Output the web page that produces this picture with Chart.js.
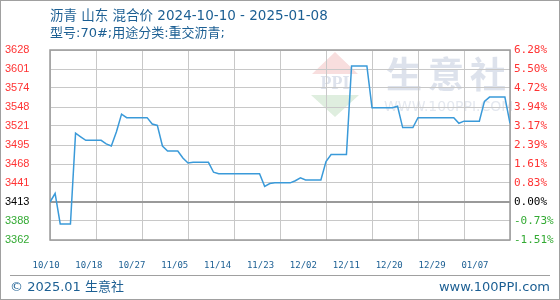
<!DOCTYPE html>
<html><head><meta charset="utf-8">
<script src="https://cdn.jsdelivr.net/npm/chart.js@4"></script>
<style>
html,body{margin:0;padding:0;background:#fff;}
#wrap{position:relative;width:560px;height:300px;overflow:hidden;}
#frame{position:absolute;left:0;top:0;width:558px;height:298px;border:1px solid #a0a0a0;}
canvas{position:absolute;left:0;top:0;}
.t{position:absolute;color:#1c5f93;font-family:"DejaVu Sans","Noto Sans CJK SC",sans-serif;font-size:13.5px;white-space:nowrap;line-height:18px;}
.s{font-size:13px;}
.f{font-size:13px;}
#hr{position:absolute;left:10px;top:275px;width:540px;height:0;border-top:1px solid #a0a0a0;}
</style></head>
<body>
<div id="wrap">
<canvas id="c" width="560" height="300"></canvas>
<div class="t" style="left:50px;top:6px;">沥青 山东 混合价 2024-10-10 - 2025-01-08</div>
<div class="t s" style="left:50px;top:24px;">型号:70#;用途分类:重交沥青;</div>
<div id="hr"></div>
<div class="t f" style="left:10px;top:278px;">© 2025.01 生意社</div>
<div class="t f" style="right:10px;top:278px;">www.100PPI.com</div>
<div id="frame"></div>
</div>
<script>
// ---- data ----
const xTickLabels = ['10/10','10/18','10/27','11/05','11/14','11/23','12/02','12/11','12/20','12/29','01/07'];
const yTickLabels = ['3362','3388','3413','3441','3468','3495','3521','3548','3574','3601','3628'];
const pctTickLabels = ['-1.51%','-0.73%','0.00%','0.83%','1.61%','2.39%','3.17%','3.94%','4.72%','5.50%','6.28%'];
// daily prices 2024-10-10 .. 2025-01-08
const prices = [
 3413,3425,3382,3382,3382,3510,3505,3500,3500,3500,
 3500,3495,3492,3512,3537,3532,3532,3532,3532,3532,
 3523,3521,3492,3485,3485,3485,3475,3468,3469,3469,
 3469,3469,3455,3453,3453,3453,3453,3453,3453,3453,
 3453,3453,3435,3439,3440,3440,3440,3440,3443,3447,
 3444,3444,3444,3444,3470,3480,3480,3480,3480,3605,
 3605,3605,3605,3546,3546,3546,3546,3546,3548,3518,
 3518,3518,3532,3532,3532,3532,3532,3532,3532,3532,
 3524,3527,3527,3527,3527,3555,3561,3561,3561,3561,
 3524
];

const Y_MIN = 3359.4, Y_STEP = 26.8, Y_MAX = Y_MIN + 10 * Y_STEP;
const tickColor = i => i < 2 ? '#33aa33' : (i === 2 ? '#000000' : '#ff3333');
const setYTicks = s => { s.ticks = yTickLabels.map((_, i) => ({ value: Y_MIN + i * Y_STEP })); };

const framePlugin = {
  id: 'frame',
  beforeDraw(chart) {
    const { ctx, chartArea: a } = chart;
    ctx.save();
    // watermark logo
    const cx = a.left + 285, top = a.top + 2;
    ctx.fillStyle = '#f8dede';
    ctx.beginPath(); ctx.moveTo(cx, top); ctx.lineTo(cx + 23, top + 22); ctx.lineTo(cx - 23, top + 22); ctx.closePath(); ctx.fill();
    ctx.fillStyle = '#dfeedf';
    ctx.beginPath(); ctx.moveTo(cx - 24, top + 43); ctx.lineTo(cx + 24, top + 43); ctx.lineTo(cx, top + 65); ctx.closePath(); ctx.fill();
    ctx.fillStyle = '#dde2ec';
    ctx.font = 'bold 18px "Liberation Serif", serif';
    ctx.textAlign = 'center'; ctx.textBaseline = 'middle';
    ctx.fillText('PPI', cx, top + 32);
    ctx.font = 'bold 36px "Noto Sans CJK SC"';
    ctx.textAlign = 'left';
    ctx.fillText('生', a.left + 336, top + 22);
    ctx.fillText('意', a.left + 378, top + 22);
    ctx.fillText('社', a.left + 420, top + 22);
    ctx.fillStyle = '#e4e8ef';
    ctx.font = '14px "DejaVu Sans"';
    ctx.fillText('WWW.100PPI.COM', a.left + 334, top + 55);
    ctx.restore();
  },
  beforeDatasetsDraw(chart) {
    const { ctx, chartArea: a } = chart;
    ctx.save();
    ctx.strokeStyle = '#9a9a9a';
    ctx.lineWidth = 1.5;
    ctx.strokeRect(a.left, a.top, a.right - a.left, a.bottom - a.top);
    ctx.restore();
  }
};

new Chart(document.getElementById('c'), {
  type: 'line',
  data: {
    datasets: [{
      data: prices.map((v, i) => ({ x: i, y: v })),
      xAxisID: 'x', yAxisID: 'y',
      borderColor: '#3a9ad9', borderWidth: 1.5,
      pointRadius: 0, fill: false, tension: 0
    }]
  },
  options: {
    responsive: false, animation: false,
    layout: { padding: { left: 5, right: 0, top: 50, bottom: 0 } },
    plugins: { legend: { display: false }, tooltip: { enabled: false }, title: { display: false } },
    scales: {
      x: {
        type: 'linear', position: 'bottom', min: 0, max: prices.length - 1,
        ticks: { display: false, stepSize: 9 },
        grid: { color: '#c8c8c8', lineWidth: 1, tickBorderDash: [3, 2], drawTicks: false },
        border: { display: false },
        afterFit: s => { s.height = 0; }
      },
      xl: {
        type: 'linear', position: 'bottom', min: 0.093, max: 10.816,
        afterBuildTicks: s => { s.ticks = xTickLabels.map((_, i) => ({ value: i })); },
        ticks: { callback: (v, i) => xTickLabels[i], color: '#1c5f93', padding: 12, maxRotation: 0, autoSkip: false,
                 font: { family: 'DejaVu Sans Mono', size: 9 } },
        grid: { display: false }, border: { display: false },
        afterFit: s => { s.height = 60; }
      },
      y: {
        type: 'linear', position: 'left', min: Y_MIN, max: Y_MAX,
        afterBuildTicks: setYTicks,
        ticks: { callback: (v, i) => yTickLabels[i], color: c => tickColor(c.index), crossAlign: 'far',
                 font: { family: 'Liberation Sans', size: 11 } },
        grid: { color: c => c.index === 2 ? '#9a9a9a' : '#c8c8c8', lineWidth: c => c.index === 2 ? 2 : 1,
                tickBorderDash: c => c.index === 2 ? [] : [3, 2], drawTicks: false },
        border: { display: false },
        afterFit: s => { s.width = 45; }
      },
      y2: {
        type: 'linear', position: 'right', min: Y_MIN, max: Y_MAX,
        afterBuildTicks: setYTicks,
        ticks: { callback: (v, i) => pctTickLabels[i], color: c => tickColor(c.index), padding: 4,
                 font: { family: 'DejaVu Sans Mono', size: 11 } },
        grid: { display: false, drawTicks: false }, border: { display: false },
        afterFit: s => { s.width = 50; }
      }
    }
  },
  plugins: [framePlugin]
});
</script>
</body></html>
